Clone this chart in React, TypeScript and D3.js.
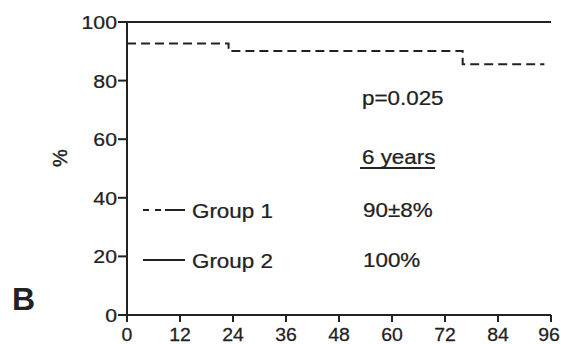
import React from "react";
import * as d3 from "d3";

const xTicks = [0, 12, 24, 36, 48, 60, 72, 84, 96];
const yTicks = [0, 20, 40, 60, 80, 100];
const group1Times = [0, 23, 76, 94.5];
const group1Surv = [92.7, 90.1, 85.6];
const group2Times = [0, 96];
const group2Surv = [100];
const legendLabels = ["Group 1", "Group 2"];
const sixYearValues = ["90±8%", "100%"];
const pText = "p=0.025";
const yearsText = "6 years";

const W = 561, H = 344;
const x = d3.scaleLinear().domain([0, 96]).range([127, 551]);
const y = d3.scaleLinear().domain([0, 100]).range([315, 22]);

function stepPts(times: number[], surv: number[]): [number, number][] {
  const pts: [number, number][] = [];
  for (let i = 0; i < surv.length; i++) {
    pts.push([times[i], surv[i]]);
    pts.push([times[i + 1], surv[i]]);
  }
  return pts;
}

const line = d3.line<[number, number]>().x(d => x(d[0])).y(d => y(d[1]));

const ink = "#222";
const font = "'Liberation Sans', Arial, sans-serif";

function Txt(props: { x: number; y: number; size: number; anchor?: string; children: React.ReactNode; sx?: number }) {
  const sx = props.sx ?? 1.12;
  return (
    <text
      transform={`translate(${props.x},${props.y}) scale(${sx},1)`}
      fontSize={props.size}
      textAnchor={props.anchor || "start"}
      stroke={ink}
      strokeWidth={0.25}
    >
      {props.children}
    </text>
  );
}

export default function App() {
  return (
    <svg width={W} height={H} style={{ position: "absolute", left: 0, top: 0, background: "#fff" }}>
      <g fontFamily={font} fill={ink}>
        {/* axes */}
        <line x1={x(0)} x2={x(0)} y1={y(100)} y2={y(0)} stroke={ink} strokeWidth={2} />
        <line x1={x(0)} x2={x(96)} y1={y(0)} y2={y(0)} stroke={ink} strokeWidth={2} />
        {yTicks.map(t => (
          <g key={"y" + t}>
            <line x1={x(0) - 9} x2={x(0)} y1={y(t)} y2={y(t)} stroke={ink} strokeWidth={2} />
            <Txt x={x(0) - 10} y={y(t) + 7} size={19} anchor="end">{t}</Txt>
          </g>
        ))}
        {xTicks.map(t => (
          <g key={"x" + t}>
            <line x1={x(t)} x2={x(t)} y1={y(0)} y2={y(0) + 7} stroke={ink} strokeWidth={2} />
            <Txt x={Math.min(x(t), 549)} y={341} size={18} anchor="middle" sx={1.08}>{t}</Txt>
          </g>
        ))}
        <text transform="translate(67,158) rotate(-90)" fontSize={20} textAnchor="middle" stroke={ink} strokeWidth={0.4}>%</text>
        <text x={12} y={310} fontSize={32} fontWeight="bold">B</text>

        {/* curves */}
        <path d={line(stepPts(group2Times, group2Surv)) || ""} fill="none" stroke={ink} strokeWidth={2} />
        <path d={line(stepPts(group1Times, group1Surv)) || ""} fill="none" stroke={ink} strokeWidth={2} strokeDasharray="9,5" />

        {/* legend */}
        <line x1={143} x2={185} y1={210} y2={210} stroke={ink} strokeWidth={2} strokeDasharray="6,6,6,4,30" />
        <line x1={143} x2={185} y1={260} y2={260} stroke={ink} strokeWidth={2} />
        <Txt x={192} y={218} size={20}>{legendLabels[0]}</Txt>
        <Txt x={192} y={268} size={20}>{legendLabels[1]}</Txt>

        {/* annotations */}
        <Txt x={362} y={105} size={20}>{pText}</Txt>
        <Txt x={362} y={164} size={20}>{yearsText}</Txt>
        <line x1={360} x2={435} y1={168} y2={168} stroke={ink} strokeWidth={2} />
        <Txt x={363} y={217} size={20}>{sixYearValues[0]}</Txt>
        <Txt x={363} y={267} size={20}>{sixYearValues[1]}</Txt>
      </g>
    </svg>
  );
}
